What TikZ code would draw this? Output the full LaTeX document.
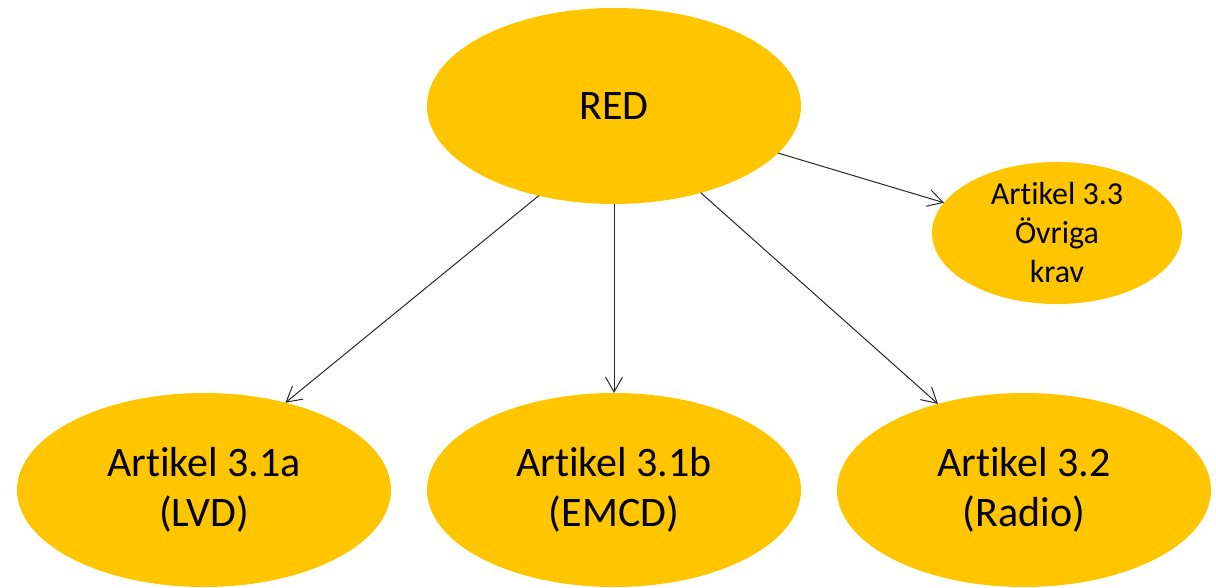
\documentclass[tikz,border=0pt]{standalone}
\usepackage{fontspec}
\setmainfont{Carlito}[Ligatures={NoCommon}]
\usetikzlibrary{shapes.geometric,arrows.meta}
\definecolor{gold}{RGB}{255,198,0}
\definecolor{linegray}{RGB}{40,40,40}
\tikzset{
  blob/.style={ellipse, fill=gold, draw=none, inner sep=0pt, outer sep=0pt, align=center, text=black},
  bigtext/.style={font=\fontsize{42}{50}\selectfont},
  smalltext/.style={font=\fontsize{32}{39}\selectfont},
  link/.style={draw=linegray, line width=1pt, -{Straight Barb[length=15pt,width=17pt,line width=1pt]}}
}
\begin{document}
\begin{tikzpicture}[x=1pt,y=-1pt]
\useasboundingbox (0,0) rectangle (1216,587);
\node[blob,bigtext,minimum width=374pt,minimum height=196pt] (red) at (614,106) {RED};
\node[blob,smalltext,minimum width=250pt,minimum height=138pt] (a33) at (1057,233) {Artikel 3.3\\Övriga\\krav};
\node[blob,bigtext,minimum width=374pt,minimum height=194pt] (a31a) at (204,490) {Artikel 3.1a\\(LVD)};
\node[blob,bigtext,minimum width=374pt,minimum height=194pt] (a31b) at (614,490) {Artikel 3.1b\\(EMCD)};
\node[blob,bigtext,minimum width=374pt,minimum height=194pt] (a32) at (1024,490) {Artikel 3.2\\(Radio)};
\draw[link] (red.230.9) -- (a31a.47.9);
\draw[link] (red.south) -- (a31b.north);
\draw[link] (red.315) -- (a32.135.3);
\draw[link] (red.344.8) -- (a33.165.5);
\end{tikzpicture}
\end{document}
